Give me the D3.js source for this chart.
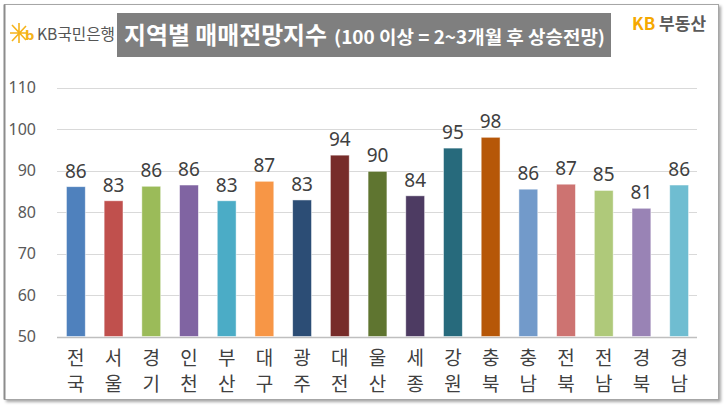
<!DOCTYPE html>
<html><head><meta charset="utf-8">
<script src="https://cdn.jsdelivr.net/npm/d3@7"></script>
<style>
body{margin:0;background:#fff;}
svg{display:block;font-family:"Noto Sans CJK KR","Noto Sans",sans-serif;}
</style></head><body>
<svg id="c" width="725" height="407"></svg>
<script>
const categories = ["전국","서울","경기","인천","부산","대구","광주","대전","울산","세종","강원","충북","충남","전북","전남","경북","경남"];
const values = [86.1,82.7,86.2,86.5,82.7,87.4,82.9,93.7,89.8,83.9,95.4,98.0,85.5,86.7,85.2,80.9,86.5];
const labels = [86,83,86,86,83,87,83,94,90,84,95,98,86,87,85,81,86];
const colors = ["#4f81bd","#c0504d","#9bbb59","#8064a2","#4bacc6","#f79646","#2c4d75","#772c2a","#5f7530","#4d3b62","#276a7c","#b65708","#729aca","#cd7371","#afc97a","#9983b5","#6fbdd1"];
const yTicks = [50,60,70,80,90,100,110];

const svg = d3.select("#c");
const defs = svg.append("defs");
const f = defs.append("filter").attr("id","sh").attr("x","-5%").attr("y","-5%").attr("width","110%").attr("height","110%");
f.append("feDropShadow").attr("dx",2).attr("dy",2).attr("stdDeviation",1.5).attr("flood-color","#000").attr("flood-opacity",0.35);

svg.append("rect").attr("x",4.5).attr("y",4.5).attr("width",714).attr("height",395)
  .attr("fill","#fff").attr("stroke","#a6a6a6").attr("stroke-width",1).attr("filter","url(#sh)");
svg.append("line").attr("x1",4.5).attr("x2",4.5).attr("y1",4.5).attr("y2",399.5).attr("stroke","#8c8c8c").attr("stroke-width",2);

// title box
svg.append("rect").attr("x",117).attr("y",13).attr("width",494).attr("height",44).attr("fill","#7f7f7f");
svg.append("text").attr("x",124).attr("y",44).attr("fill","#fff").attr("font-weight","bold")
  .attr("font-size",24).attr("textLength",203).attr("lengthAdjust","spacingAndGlyphs").text("지역별 매매전망지수");
svg.append("text").attr("x",334).attr("y",44).attr("fill","#fff").attr("font-weight","bold")
  .attr("font-size",18).attr("textLength",271).attr("lengthAdjust","spacingAndGlyphs").text("(100 이상 = 2~3개월 후 상승전망)");

// KB logo left
const lg = svg.append("g").attr("transform","translate(20,33)");
lg.append("path").attr("d","M-8,-8 L6,7 M-8,8 L6,-7 M-1,-10 L-1,10 M-10,0 L8,0").attr("stroke","#f5b31a").attr("stroke-width",1.6);
lg.append("text").attr("x",5).attr("y",7).attr("font-size",13).attr("font-weight","bold").attr("fill","#f5b31a").attr("font-family","DejaVu Sans").text("b");
svg.append("text").attr("x",37).attr("y",40).attr("font-size",16).attr("fill","#555").attr("textLength",78).attr("lengthAdjust","spacingAndGlyphs").text("KB국민은행");

// KB 부동산 right
const rt = svg.append("text").attr("x",632).attr("y",30).attr("font-size",17).attr("font-weight","bold");
rt.append("tspan").attr("fill","#f5a800").text("KB ");
rt.append("tspan").attr("fill","#5a5a5a").text("부동산");

const x = d3.scaleBand().domain(categories).range([57,698]).paddingInner(0.5).paddingOuter(0.25);
const y = d3.scaleLinear().domain([50,110]).range([336.5,87.5]);

const grid = svg.append("g");
grid.selectAll("line").data(yTicks).join("line")
  .attr("x1",57).attr("x2",697).attr("y1",d=>Math.round(y(d))+0.5).attr("y2",d=>Math.round(y(d))+0.5)
  .attr("stroke",d=>d===50?"#bfbfbf":"#d9d9d9").attr("stroke-width",d=>d===50?1.5:1);

const yAxis = d3.axisLeft(y).tickValues(yTicks).tickSize(0).tickPadding(0);
const ya = svg.append("g").attr("transform","translate(36,0)").call(yAxis);
ya.select(".domain").remove();
ya.selectAll("text").attr("font-size",16).attr("fill","#595959").attr("font-family","Noto Sans");

svg.append("g").selectAll("rect").data(values).join("rect")
  .attr("x",(d,i)=>x(categories[i])).attr("width",x.bandwidth())
  .attr("y",d=>y(d)).attr("height",d=>y(50)-y(d))
  .attr("fill",(d,i)=>colors[i]).attr("stroke","#fff").attr("stroke-opacity",0.6).attr("stroke-width",0.8);

svg.append("g").selectAll("text").data(values).join("text")
  .attr("x",(d,i)=>x(categories[i])+x.bandwidth()/2).attr("y",d=>y(d)-9)
  .attr("text-anchor","middle").attr("font-size",19).attr("fill","#404040").attr("font-family","Noto Sans")
  .text((d,i)=>labels[i]);

const cg = svg.append("g");
[0,1].forEach(k=>{
  cg.append("g").selectAll("text").data(categories).join("text")
    .attr("x",d=>x(d)+x.bandwidth()/2).attr("y",k===0?365:391)
    .attr("text-anchor","middle").attr("font-size",19).attr("fill","#404040")
    .text(d=>d[k]);
});
</script></body></html>
